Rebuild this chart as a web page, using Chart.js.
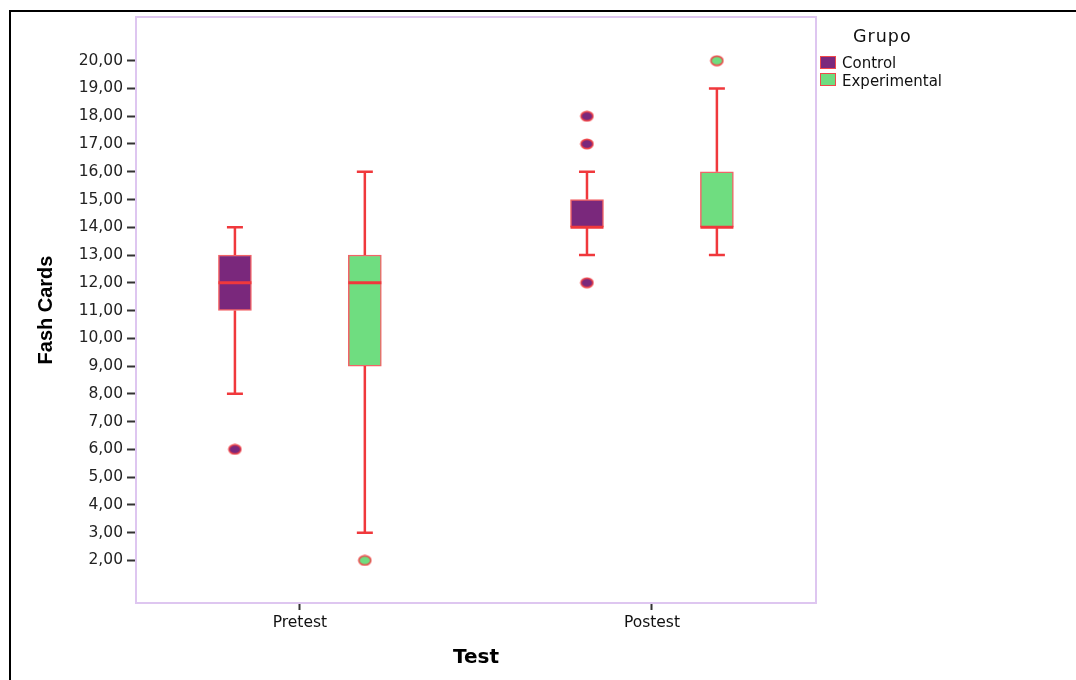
<!DOCTYPE html>
<html>
<head>
<meta charset="utf-8">
<script src="https://cdn.jsdelivr.net/npm/chart.js@4.4.0/dist/chart.umd.min.js"></script>
<style>
  html, body { margin: 0; padding: 0; background: #fff; overflow: hidden; }
  #wrap { position: relative; width: 1076px; height: 680px; }
  #frame { position: absolute; left: 9px; top: 10px; width: 1200px; height: 800px;
           border-left: 2px solid #000; border-top: 2px solid #000; pointer-events: none; }
  canvas { position: absolute; left: 0; top: 0; }
  .lg { position: absolute; font-family: "DejaVu Sans", sans-serif; color: #111; white-space: nowrap; }
  .sw { position: absolute; width: 14px; height: 11px; border: 1.5px solid #f0484c; }
</style>
</head>
<body>
<div id="wrap">
  <canvas id="chart" width="1076" height="680"></canvas>
  <div id="frame"></div>
  <div class="lg" style="left:853px; top:25px; font-size:17.5px; letter-spacing:1px; line-height:22px;">Grupo</div>
  <div class="sw" style="left:820px; top:56px; background:#7a287c;"></div>
  <div class="lg" style="left:842px; top:54px; font-size:15px; line-height:18px;">Control</div>
  <div class="sw" style="left:820px; top:73px; background:#6fdd80;"></div>
  <div class="lg" style="left:842px; top:72px; font-size:15px; line-height:18px;">Experimental</div>
</div>
<script>
// categories on the x axis and the two groups
const categories = ['Pretest', 'Postest'];
const groups = ['Control', 'Experimental'];

// box plot values, one entry per category
const controlLow = [8, 13];
const controlQ1 = [11, 14];
const controlMedian = [12, 14];
const controlQ3 = [13, 15];
const controlHigh = [14, 16];
const controlOutliers = [[6], [12, 17, 18]];

const experimentalLow = [3, 13];
const experimentalQ1 = [9, 14];
const experimentalMedian = [12, 14];
const experimentalQ3 = [13, 16];
const experimentalHigh = [16, 19];
const experimentalOutliers = [[2], [20]];

// y tick labels
const yTicks = [2, 3, 4, 5, 6, 7, 8, 9, 10, 11, 12, 13, 14, 15, 16, 17, 18, 19, 20];

const purple = '#7a287c';
const green = '#6fdd80';
const red = '#f0383c';
const groupOffset = [-0.1845, 0.1845];
const boxWidth = 33;

const stats = [
    { low: controlLow, q1: controlQ1, med: controlMedian, q3: controlQ3, high: controlHigh, out: controlOutliers, color: purple },
    { low: experimentalLow, q1: experimentalQ1, med: experimentalMedian, q3: experimentalQ3, high: experimentalHigh, out: experimentalOutliers, color: green }
];

// small ellipse used as the outlier marker
function ellipseMarker(fill) {
    const c = document.createElement('canvas');
    c.width = 15; c.height = 12;
    const x = c.getContext('2d');
    x.beginPath();
    x.ellipse(7.5, 6, 6, 4.6, 0, 0, Math.PI * 2);
    x.fillStyle = fill;
    x.fill();
    x.lineWidth = 1.6;
    x.strokeStyle = 'rgba(240,60,64,0.9)';
    x.stroke();
    return c;
}

// boxes as floating bars
const boxSets = stats.map((s, g) => ({
    type: 'bar',
    label: groups[g],
    data: categories.map((c, i) => ({ x: i + groupOffset[g], y: [s.q1[i], s.q3[i]] })),
    backgroundColor: s.color,
    borderColor: 'rgba(240,72,76,0.85)',
    borderWidth: 1.5,
    borderSkipped: false,
    barThickness: boxWidth,
    grouped: false,
    order: 2
}));

// outliers as scatter points
const outlierSets = stats.map((s, g) => {
    const pts = [];
    categories.forEach((c, i) => s.out[i].forEach(v => pts.push({ x: i + groupOffset[g], y: v })));
    return {
        type: 'scatter',
        label: groups[g] + ' outliers',
        data: pts,
        pointStyle: ellipseMarker(s.color),
        backgroundColor: s.color,
        borderColor: red,
        pointRadius: 6,
        pointHoverRadius: 6,
        order: 1
    };
});

// whiskers, caps and medians drawn with the chart scales
const whiskerPlugin = {
    id: 'whiskers',
    afterDatasetsDraw(chart) {
        const ctx = chart.ctx;
        const xs = chart.scales.x, ys = chart.scales.y;
        ctx.save();
        ctx.strokeStyle = red;
        stats.forEach((s, g) => {
            categories.forEach((c, i) => {
                const x = xs.getPixelForValue(i + groupOffset[g]);
                ctx.lineWidth = 2.5;
                ctx.beginPath();
                ctx.moveTo(x, ys.getPixelForValue(s.low[i]));
                ctx.lineTo(x, ys.getPixelForValue(s.q1[i]));
                ctx.moveTo(x, ys.getPixelForValue(s.q3[i]));
                ctx.lineTo(x, ys.getPixelForValue(s.high[i]));
                ctx.stroke();
                ctx.lineWidth = 2.5;
                ctx.beginPath();
                [s.low[i], s.high[i]].forEach(v => {
                    const y = ys.getPixelForValue(v);
                    ctx.moveTo(x - 8, y);
                    ctx.lineTo(x + 8, y);
                });
                ctx.stroke();
                ctx.lineWidth = 3;
                ctx.beginPath();
                const ym = ys.getPixelForValue(s.med[i]);
                ctx.moveTo(x - boxWidth / 2, ym);
                ctx.lineTo(x + boxWidth / 2, ym);
                ctx.stroke();
            });
        });
        ctx.restore();
    }
};

const framePlugin = {
    id: 'plotFrame',
    afterDraw(chart) {
        const a = chart.chartArea;
        const ctx = chart.ctx;
        ctx.save();
        ctx.strokeStyle = '#dec6f0';
        ctx.lineWidth = 2;
        ctx.strokeRect(a.left, a.top, a.right - a.left, a.bottom - a.top);
        ctx.restore();
    }
};

new Chart(document.getElementById('chart'), {
    type: 'bar',
    data: { datasets: [...boxSets, ...outlierSets] },
    plugins: [whiskerPlugin, framePlugin],
    options: {
        responsive: false,
        animation: false,
        layout: { padding: { left: 0, top: 17, right: 260, bottom: 0 } },
        plugins: { legend: { display: false }, tooltip: { enabled: false } },
        scales: {
            x: {
                type: 'linear',
                offset: false,
                min: -0.4655,
                max: 1.466,
                afterBuildTicks: scale => { scale.ticks = categories.map((c, i) => ({ value: i })); },
                afterFit: scale => { scale.height = 77; },
                grid: { offset: false, drawOnChartArea: false, drawTicks: true, tickLength: 7, tickColor: '#333', tickWidth: 2 },
                border: { display: false },
                ticks: {
                    callback: v => categories[v],
                    color: '#111',
                    padding: 4,
                    maxRotation: 0,
                    font: { family: 'DejaVu Sans', size: 15.5 }
                },
                title: {
                    display: true,
                    text: 'Test',
                    color: '#000',
                    font: { family: 'DejaVu Sans', size: 20, weight: 'bold' },
                    padding: { top: 0, bottom: 10 }
                }
            },
            y: {
                type: 'linear',
                min: 0.465,
                max: 21.574,
                afterBuildTicks: scale => { scale.ticks = yTicks.map(v => ({ value: v })); },
                afterFit: scale => { scale.width = 136; },
                grid: { drawOnChartArea: false, drawTicks: true, tickLength: 9, tickColor: '#333', tickWidth: 2 },
                border: { display: false },
                ticks: {
                    callback: v => v.toFixed(2).replace('.', ','),
                    color: '#222',
                    padding: 4,
                    font: { family: 'DejaVu Sans', size: 15.5 }
                },
                title: {
                    display: true,
                    text: 'Fash Cards',
                    color: '#000',
                    font: { family: 'Liberation Sans', size: 20, weight: 'bold' },
                    padding: { top: 34, bottom: 0 }
                }
            }
        }
    }
});
</script>
</body>
</html>
